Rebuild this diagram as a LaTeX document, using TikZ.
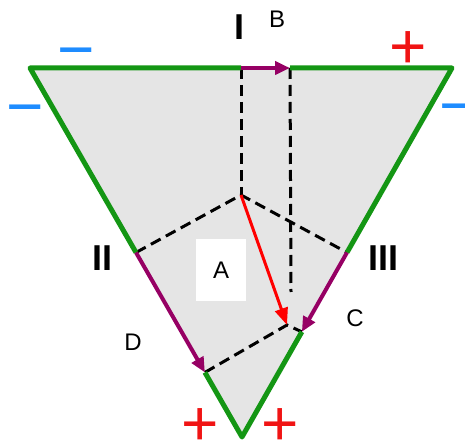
\documentclass[tikz,border=0pt]{standalone}
\usepackage{fontspec}
\setmainfont{Liberation Sans}
\usetikzlibrary{arrows.meta,calc}

\definecolor{edgegreen}{RGB}{20,150,20}
\definecolor{vecpurple}{RGB}{150,0,100}
\definecolor{signblue}{RGB}{30,140,255}
\definecolor{signred}{RGB}{240,20,20}

\begin{document}
\begin{tikzpicture}[
    x=1pt, y=-1pt,
    edge/.style={
        draw=edgegreen,
        line width=5pt,
        line join=round
    },
    vec/.style={
        -{Triangle[length=15pt,width=13pt]},
        draw=vecpurple,
        line width=4pt
    },
    cut/.style={
        draw=black,
        line width=3pt,
        dash pattern=on 11pt off 6pt
    },
    lbl/.style={
        inner sep=0pt,
        font=\fontsize{24}{24}\selectfont
    },
    num/.style={
        inner sep=0pt,
        font=\fontsize{36}{36}\selectfont\bfseries
    },
    minus/.style={
        inner sep=0pt,
        text=signblue,
        font=\fontsize{64}{64}\selectfont
    },
    plus/.style={
        inner sep=0pt,
        text=signred,
        font=\fontsize{64}{64}\selectfont
    }
]
\useasboundingbox (0,0) rectangle (465,443);

% triangle corners and points on its sides
\coordinate (tl) at (30,68);
\coordinate (tr) at (452,68);
\coordinate (bot) at (242,437);
\coordinate (itop) at (241,68);
\coordinate (bend) at (290,68);
\coordinate (ctr) at (241,195);
\coordinate (ii) at ($(tl)!0.5!(bot)$);
\coordinate (iii) at ($(tr)!0.5!(bot)$);
\coordinate (dend) at ($(tl)!0.825!(bot)$);
\coordinate (cend) at ($(tr)!0.715!(bot)$);
\coordinate (corner) at (287,325);
\coordinate (vend) at (291,292);

\fill[gray!20] (tl) -- (tr) -- (bot) -- cycle;

\node[lbl, fill=white, minimum width=50pt, minimum height=62pt] (a) at (221,270) {A};

% dashed cuts
\draw[cut] (itop) -- (ctr);
\draw[cut] (bend) -- (vend);
\draw[cut] (ii) -- (ctr) -- (iii);
\draw[cut] (dend) -- (corner) -- (cend);

% green sides
\draw[edge] (itop) -- (tl) -- (ii);
\draw[edge] (bend) -- (tr) -- (iii);
\draw[edge] (dend) -- (bot) -- (cend);

% vectors
\draw[vec] (itop) -- (bend);
\draw[vec] (ii) -- (dend);
\draw[vec] (iii) -- (cend);
\draw[-{Triangle[length=17pt,width=13pt]}, draw=red, line width=3pt] (ctr) -- (corner);

\node[num] (n1) at (239,27) {I};
\node[num] (n2) at (102,258) {II};
\node[num] (n3) at (383,258) {III};

\node[lbl] (b) at (277,19) {B};
\node[lbl] (c) at (355,318) {C};
\node[lbl] (d) at (133,342) {D};

\node[minus] (m1) at (76,60) {−};
\node[minus] (m2) at (25,117) {−};
\node[minus] (m3) at (458,116) {−};

\node[plus] (p1) at (408,50) {+};
\node[plus] (p2) at (200,427) {+};
\node[plus] (p3) at (280,427) {+};

\end{tikzpicture}
\end{document}
